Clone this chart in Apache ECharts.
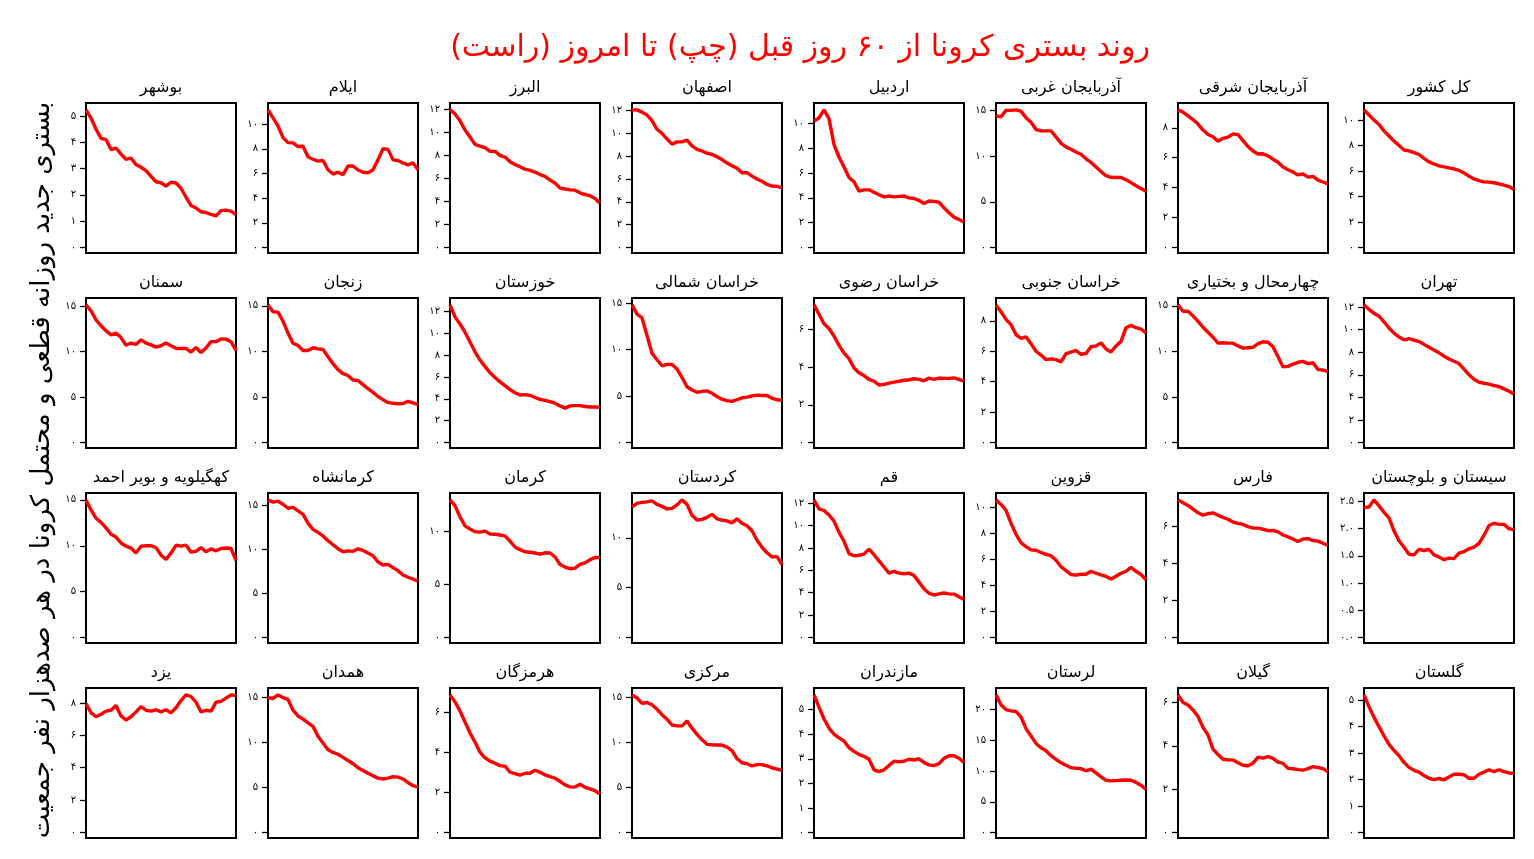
<!DOCTYPE html>
<html lang="fa">
<head>
<meta charset="UTF-8">
<title>روند بستری کرونا</title>
<script src="https://cdn.jsdelivr.net/npm/echarts@6.0.0/dist/echarts.min.js"></script>
<style>
  html, body { margin: 0; padding: 0; background: #fff; }
  #chart { width: 1534px; height: 859px; }
</style>
</head>
<body>
<div id="chart"></div>
<script>
// panels in reading order: right to left, top to bottom
const regions = [
  'کل کشور', 'آذربایجان شرقی', 'آذربایجان غربی', 'اردبیل', 'اصفهان', 'البرز', 'ایلام', 'بوشهر',
  'تهران', 'چهارمحال و بختیاری', 'خراسان جنوبی', 'خراسان رضوی', 'خراسان شمالی', 'خوزستان', 'زنجان', 'سمنان',
  'سیستان و بلوچستان', 'فارس', 'قزوین', 'قم', 'کردستان', 'کرمان', 'کرمانشاه', 'کهگیلویه و بویر احمد',
  'گلستان', 'گیلان', 'لرستان', 'مازندران', 'مرکزی', 'هرمزگان', 'همدان', 'یزد'
];

// days before today (every second day), left = 60 days ago
const days = [60, 58, 56, 54, 52, 50, 48, 46, 44, 42, 40, 38, 36, 34, 32, 30,
  28, 26, 24, 22, 20, 18, 16, 14, 12, 10, 8, 6, 4, 2, 0];

// daily new hospitalisations per 100k
const kolKeshvar = [10.8,10.4,10.0,9.65,9.15,8.75,8.35,8.0,7.65,7.58,7.45,7.3,7.0,6.72,6.55,6.4,6.33,6.25,6.17,6.05,5.85,5.6,5.38,5.25,5.15,5.13,5.08,5.0,4.9,4.78,4.55];
const azarSharghi = [9.2,9.05,8.8,8.55,8.25,7.85,7.55,7.4,7.1,7.3,7.38,7.6,7.55,7.15,6.75,6.45,6.25,6.27,6.12,5.9,5.7,5.38,5.2,5.05,4.85,4.92,4.7,4.75,4.5,4.38,4.25];
const azarGharbi = [14.4,14.3,15.0,15.0,15.05,14.9,14.2,13.7,12.9,12.75,12.75,12.75,12.1,11.4,11.0,10.75,10.45,10.2,9.7,9.3,8.8,8.3,7.85,7.68,7.65,7.65,7.4,7.1,6.75,6.45,6.15];
const ardabil = [10.2,10.45,11.1,10.4,8.3,7.3,6.5,5.65,5.3,4.55,4.65,4.65,4.45,4.25,4.08,4.15,4.08,4.12,4.15,4.0,3.95,3.8,3.55,3.75,3.72,3.65,3.2,2.8,2.45,2.25,2.05];
const esfahan = [12.05,12.05,11.85,11.6,11.1,10.35,10.0,9.5,9.05,9.25,9.25,9.4,8.9,8.6,8.45,8.25,8.15,7.95,7.7,7.4,7.15,6.95,6.55,6.55,6.25,6.0,5.8,5.52,5.38,5.35,5.25];
const alborz = [11.95,11.6,11.0,10.2,9.6,8.95,8.8,8.68,8.35,8.35,8.0,7.85,7.45,7.2,7.02,6.8,6.7,6.55,6.33,6.18,5.85,5.6,5.15,5.08,5.0,4.98,4.75,4.6,4.5,4.25,3.85];
const ilam = [11.15,10.5,9.85,8.9,8.5,8.48,8.18,8.2,7.35,7.15,7.0,7.05,6.3,5.95,6.1,5.9,6.6,6.6,6.28,6.1,6.05,6.3,7.1,8.0,7.95,7.1,7.05,6.85,6.7,6.85,6.3];
const bushehr = [5.23,4.92,4.5,4.15,4.1,3.72,3.78,3.55,3.35,3.4,3.15,3.05,2.92,2.7,2.5,2.46,2.33,2.48,2.45,2.25,1.91,1.6,1.5,1.36,1.33,1.26,1.2,1.4,1.42,1.38,1.25];
const tehran = [12.2,11.8,11.45,11.2,10.7,10.15,9.7,9.35,9.1,9.2,9.08,8.95,8.7,8.45,8.2,7.95,7.65,7.4,7.2,7.0,6.5,6.0,5.6,5.35,5.25,5.18,5.05,4.95,4.75,4.55,4.3];
const chaharmahal = [15.1,14.4,14.4,13.9,13.3,12.65,12.1,11.55,10.9,10.95,10.9,10.9,10.6,10.35,10.4,10.45,10.85,11.05,11.0,10.5,9.4,8.3,8.35,8.6,8.8,8.9,8.65,8.75,8.0,7.95,7.8];
const khorasanJonubi = [9.05,8.6,8.1,7.75,7.1,6.85,6.95,6.5,6.0,5.75,5.45,5.5,5.45,5.3,5.85,5.95,6.05,5.8,5.85,6.3,6.35,6.55,6.15,5.95,6.35,6.65,7.55,7.7,7.55,7.45,7.2];
const khorasanRazavi = [7.3,6.8,6.3,6.05,5.65,5.15,4.75,4.45,3.95,3.7,3.55,3.35,3.25,3.05,3.08,3.15,3.2,3.25,3.3,3.33,3.38,3.35,3.27,3.42,3.35,3.42,3.4,3.4,3.43,3.35,3.25];
const khorasanShomali = [14.8,13.8,13.4,11.5,9.6,8.9,8.25,8.4,8.4,7.9,7.0,6.0,5.65,5.4,5.5,5.55,5.3,4.95,4.65,4.5,4.42,4.6,4.8,4.88,5.0,5.1,5.05,5.05,4.75,4.6,4.55];
const khuzestan = [12.6,11.5,10.85,10.1,9.2,8.3,7.55,6.95,6.4,5.95,5.55,5.2,4.85,4.55,4.35,4.38,4.32,4.12,3.95,3.85,3.75,3.6,3.35,3.15,3.35,3.38,3.38,3.3,3.25,3.25,3.22];
const zanjan = [15.1,14.35,14.3,13.3,12.0,10.9,10.65,10.1,10.1,10.4,10.28,10.2,9.4,8.65,8.0,7.55,7.35,6.85,6.8,6.35,5.9,5.5,5.05,4.7,4.4,4.3,4.25,4.28,4.52,4.35,4.15];
const semnan = [15.15,14.5,13.5,12.85,12.3,11.85,12.05,11.55,10.7,10.95,10.8,11.3,10.95,10.75,10.5,10.65,10.95,10.65,10.38,10.35,10.36,9.95,10.45,9.9,10.4,11.1,11.1,11.4,11.38,11.1,10.15];
const sistan = [2.39,2.4,2.53,2.42,2.3,2.2,1.96,1.78,1.66,1.53,1.52,1.62,1.6,1.62,1.52,1.48,1.43,1.46,1.45,1.55,1.58,1.63,1.66,1.73,1.88,2.06,2.1,2.08,2.08,2.0,1.98];
const fars = [7.45,7.3,7.15,6.95,6.75,6.62,6.7,6.75,6.62,6.5,6.4,6.25,6.18,6.12,6.0,5.92,5.92,5.86,5.78,5.8,5.72,5.55,5.45,5.33,5.2,5.33,5.35,5.25,5.22,5.1,5.0];
const qazvin = [10.6,10.25,9.8,8.8,7.95,7.3,7.0,6.75,6.72,6.55,6.4,6.3,5.95,5.45,5.15,4.85,4.8,4.87,4.87,5.1,4.95,4.82,4.7,4.5,4.72,4.95,5.1,5.4,5.1,4.85,4.45];
const qom = [12.3,11.5,11.35,10.95,10.4,9.4,8.6,7.5,7.3,7.35,7.45,7.9,7.4,6.85,6.3,5.75,5.9,5.75,5.7,5.75,5.55,4.95,4.35,3.95,3.8,3.9,3.98,3.9,3.88,3.65,3.4];
const kordestan = [13.1,13.45,13.55,13.6,13.7,13.35,13.15,12.9,12.95,13.3,13.8,13.35,12.25,11.78,11.85,12.05,12.35,11.9,11.76,11.7,11.5,11.9,11.45,11.2,10.7,9.75,9.05,8.5,8.08,8.1,7.3];
const kerman = [13.0,12.45,11.4,10.55,10.25,10.0,9.95,10.05,9.78,9.75,9.68,9.6,9.1,8.55,8.3,8.1,8.05,7.98,7.87,8.0,7.98,7.62,6.9,6.65,6.5,6.55,6.9,7.05,7.35,7.55,7.56];
const kermanshah = [15.65,15.4,15.5,15.15,14.7,14.8,14.4,14.0,13.0,12.3,11.95,11.55,11.0,10.55,10.1,9.75,9.85,9.8,10.08,9.9,9.6,9.3,8.6,8.25,8.32,7.95,7.6,7.1,6.85,6.65,6.4];
const kohgiluyeh = [15.0,13.9,13.0,12.55,11.95,11.25,10.95,10.3,9.95,9.75,9.2,9.95,10.0,10.0,9.8,9.0,8.5,9.2,10.05,9.96,10.07,9.3,9.4,9.8,9.35,9.65,9.45,9.7,9.75,9.7,8.4];
const golestan = [5.2,4.75,4.35,4.0,3.65,3.33,3.1,2.9,2.65,2.46,2.35,2.28,2.15,2.05,2.0,2.04,1.99,2.1,2.2,2.2,2.18,2.05,2.05,2.2,2.28,2.37,2.3,2.37,2.3,2.25,2.24];
const gilan = [6.35,6.0,5.88,5.65,5.35,4.85,4.5,3.85,3.6,3.38,3.35,3.35,3.22,3.1,3.08,3.2,3.48,3.43,3.5,3.42,3.25,3.19,2.96,2.94,2.9,2.88,2.95,3.04,3.0,2.95,2.8];
const lorestan = [22.4,20.8,20.0,19.8,19.7,18.8,16.9,15.7,14.5,13.8,13.3,12.5,11.9,11.35,10.95,10.55,10.45,10.4,10.05,10.3,9.7,9.05,8.5,8.4,8.45,8.5,8.55,8.5,8.15,7.7,7.0];
const mazandaran = [5.6,5.1,4.62,4.25,4.0,3.85,3.72,3.45,3.3,3.18,3.1,2.98,2.55,2.48,2.55,2.73,2.9,2.88,2.9,2.98,2.95,3.0,2.85,2.75,2.72,2.8,3.02,3.12,3.12,3.02,2.85];
const markazi = [15.3,14.95,14.35,14.45,14.2,13.7,13.1,12.6,11.95,11.85,11.85,12.4,11.6,10.9,10.3,9.8,9.75,9.72,9.72,9.5,9.1,8.2,7.75,7.65,7.4,7.55,7.55,7.4,7.2,7.05,6.9];
const hormozgan = [6.85,6.5,6.05,5.5,4.95,4.5,4.0,3.72,3.55,3.45,3.33,3.3,3.0,2.93,2.85,2.95,2.95,3.1,3.0,2.87,2.78,2.7,2.55,2.37,2.27,2.26,2.4,2.25,2.17,2.08,1.92];
const hamedan = [15.0,14.9,15.3,15.0,14.8,13.6,12.95,12.6,12.2,11.8,10.7,9.95,9.2,8.9,8.7,8.35,8.0,7.65,7.2,6.9,6.6,6.3,6.05,5.95,6.05,6.2,6.15,5.95,5.55,5.2,5.05];
const yazd = [7.95,7.4,7.15,7.3,7.5,7.55,7.85,7.2,6.95,7.15,7.45,7.78,7.55,7.5,7.58,7.45,7.58,7.4,7.7,8.15,8.5,8.4,8.05,7.45,7.55,7.5,8.05,8.1,8.3,8.5,8.45];

const seriesValues = [
  kolKeshvar, azarSharghi, azarGharbi, ardabil, esfahan, alborz, ilam, bushehr,
  tehran, chaharmahal, khorasanJonubi, khorasanRazavi, khorasanShomali, khuzestan, zanjan, semnan,
  sistan, fars, qazvin, qom, kordestan, kerman, kermanshah, kohgiluyeh,
  golestan, gilan, lorestan, mazandaran, markazi, hormozgan, hamedan, yazd
];

// y tick values
const ticksBy1 = [0, 1, 2, 3, 4, 5];
const ticksTo6 = [0, 2, 4, 6];
const ticksTo8 = [0, 2, 4, 6, 8];
const ticksTo10 = [0, 2, 4, 6, 8, 10];
const ticksTo12 = [0, 2, 4, 6, 8, 10, 12];
const ticks5To10 = [0, 5, 10];
const ticks5To15 = [0, 5, 10, 15];
const ticks5To20 = [0, 5, 10, 15, 20];
const ticksHalf = [0, 0.5, 1, 1.5, 2, 2.5];

const regionTicks = [
  ticksTo10, ticksTo8, ticks5To15, ticksTo10, ticksTo12, ticksTo12, ticksTo10, ticksBy1,
  ticksTo12, ticks5To15, ticksTo8, ticksTo6, ticks5To15, ticksTo12, ticks5To15, ticks5To15,
  ticksHalf, ticksTo6, ticksTo10, ticksTo12, ticks5To10, ticks5To10, ticks5To15, ticks5To15,
  ticksBy1, ticksTo6, ticks5To20, ticksBy1, ticks5To15, ticksTo6, ticks5To15, ticksTo8
];

const colLefts = [86, 268, 450, 632, 814, 996, 1178, 1364];
const rowTops = [103, 298, 493, 688];
const panelW = 150;
const panelH = 150;
const font = 'DejaVu Sans';
const faDigits = '۰۱۲۳۴۵۶۷۸۹';

function toFa(v, dec) {
  let s = dec ? v.toFixed(1) : String(v);
  return s.replace(/[0-9]/g, d => faDigits[d]);
}

let grids = [], xAxes = [], yAxes = [], series = [];
let texts = [];

regions.forEach(function (name, k) {
  let row = Math.floor(k / 8);
  let col = 7 - (k % 8);
  let left = colLefts[col];
  let top = rowTops[row];
  let ticks = regionTicks[k];
  let dec = ticks.some(t => t % 1 !== 0);

  grids.push({
    left: left, top: top, width: panelW, height: panelH,
    show: true, borderColor: '#000', borderWidth: 2, backgroundColor: 'transparent'
  });
  xAxes.push({
    type: 'category', gridIndex: k, data: days, boundaryGap: false, show: false
  });
  yAxes.push({
    type: 'value', gridIndex: k,
    min: v => -0.04 * v.max,
    max: v => 1.05 * v.max,
    splitLine: { show: false },
    axisLine: { show: false },
    axisTick: { show: true, length: 6, customValues: ticks, lineStyle: { color: '#000', width: 1.3 } },
    axisLabel: {
      customValues: ticks,
      formatter: v => toFa(v, dec),
      fontSize: 10, color: '#000', fontFamily: font, margin: 10
    }
  });
  series.push({
    type: 'line', xAxisIndex: k, yAxisIndex: k,
    data: seriesValues[k],
    symbol: 'none', silent: true,
    lineStyle: { color: '#ff0000', width: 3.4 },
    itemStyle: { color: '#ff0000' }
  });
  texts.push({
    type: 'text', x: left + panelW / 2, y: top - 15,
    style: {
      text: name, fill: '#000', font: '16px "' + font + '"',
      align: 'center', verticalAlign: 'middle',
      textAlign: 'center', textVerticalAlign: 'middle'
    }
  });
});

// main title (RLM keeps the closing bracket in place)
texts.push({
  type: 'text', x: 800, y: 48,
  style: {
    text: 'روند بستری کرونا از ۶۰ روز قبل (چپ) تا امروز (راست)\u200F',
    fill: '#ff0000', font: '30px "' + font + '"',
    align: 'center', verticalAlign: 'middle',
    textAlign: 'center', textVerticalAlign: 'middle'
  }
});
// y axis label
texts.push({
  type: 'text', x: 42, y: 470, rotation: Math.PI / 2,
  style: {
    text: 'بستری جدید روزانه قطعی و محتمل کرونا در هر صدهزار نفر جمعیت',
    fill: '#000', font: '26px "' + font + '"',
    align: 'center', verticalAlign: 'middle',
    textAlign: 'center', textVerticalAlign: 'middle'
  }
});

let myChart = echarts.init(document.getElementById('chart'));
let option = {
  backgroundColor: '#fff',
  animation: false,
  grid: grids,
  xAxis: xAxes,
  yAxis: yAxes,
  series: series,
  graphic: texts
};
myChart.setOption(option);
</script>
</body>
</html>
